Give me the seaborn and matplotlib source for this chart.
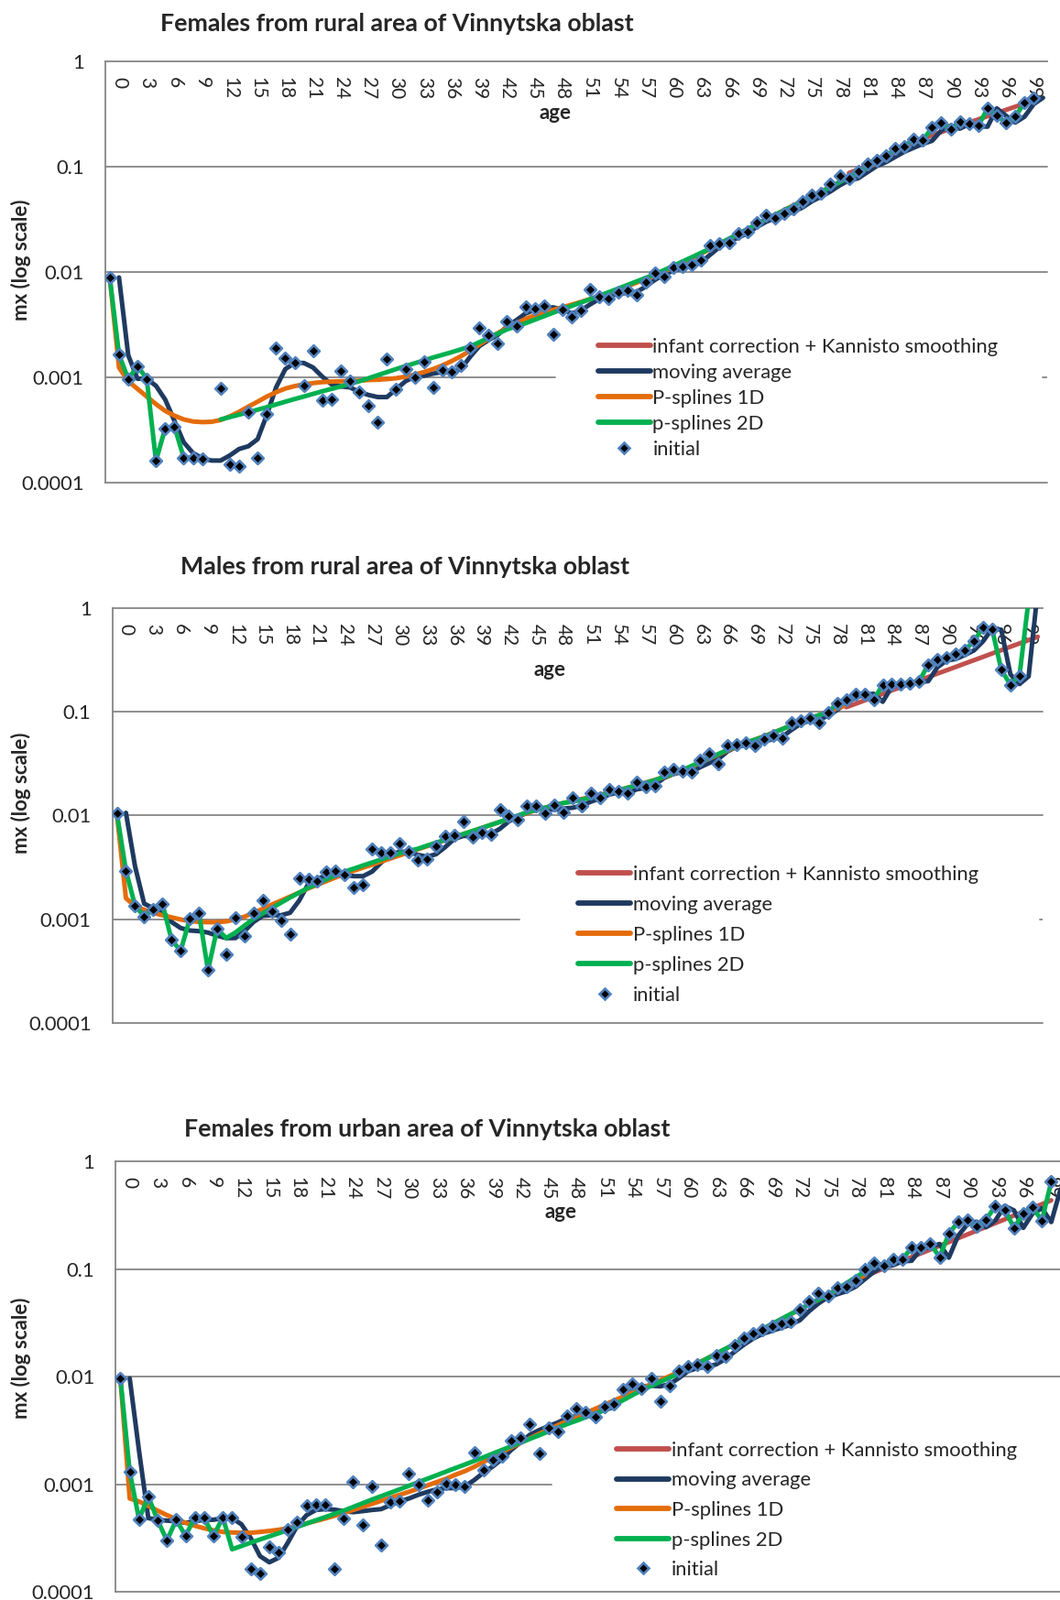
import numpy as np
import pandas as pd
import matplotlib.pyplot as plt
from matplotlib.lines import Line2D
from matplotlib.ticker import NullLocator
import seaborn as sns

nan = np.nan

# category slots of the Excel axis; labels show every third age
slots = np.arange(102)
tick_ages = list(range(0, 100, 3))
tick_slots = [a + 1 for a in tick_ages]
y_ticks = [1e-4, 1e-3, 1e-2, 1e-1, 1]
y_tick_labels = ['0.0001', '0.001', '0.01', '0.1', '1']

series_names = ['infant correction + Kannisto smoothing', 'moving average',
                'P-splines 1D', 'p-splines 2D', 'initial']
line_colors = ['#C0504D', '#1F3A60', '#E46C0A', '#00B050']
grey = '#868686'

# values are log10(mx), one per slot (nan = no point)
fr_initial = [
    -2.052, -2.786, -3.017, -2.893, -3.014, -3.794, -3.484, -3.467, -3.762, -3.768,
    -3.774, nan, -3.104, -3.829, -3.841, -3.333, -3.765, -3.351, -2.725, -2.820,
    -2.864, -3.078, -2.748, -3.217, -3.206, -2.942, -3.038, -3.142, -3.267, -3.426,
    -2.823, -3.116, -2.925, -3.000, -2.855, -3.093, -2.928, -2.945, -2.887, -2.722,
    -2.533, -2.603, -2.675, -2.472, -2.513, -2.330, -2.348, -2.319, -2.594, -2.354,
    -2.429, -2.365, -2.168, -2.235, -2.255, -2.191, -2.174, -2.214, -2.096, -2.012,
    -2.046, -1.957, -1.945, -1.930, -1.890, -1.748, -1.728, -1.719, -1.632, -1.617,
    -1.530, -1.461, -1.487, -1.443, -1.400, -1.330, -1.267, -1.255, -1.168, -1.087,
    -1.113, -1.043, -0.971, -0.942, -0.893, -0.826, -0.806, -0.742, -0.751, -0.626,
    -0.586, -0.641, -0.574, -0.594, -0.612, -0.446, -0.516, -0.580, -0.522, -0.394,
    -0.345, nan]
fr_moving_avg = [
    nan, -2.052, -2.791, -3.014, -3.014, -3.081, -3.212, -3.414, -3.617, -3.719,
    -3.768, -3.791, -3.791, -3.742, -3.681, -3.655, -3.588, -3.357, -3.096, -2.922,
    -2.864, -2.864, -2.907, -2.994, -3.067, -3.087, -3.096, -3.139, -3.168, -3.188,
    -3.188, -3.113, -3.038, -2.994, -2.986, -2.965, -2.951, -2.951, -2.922, -2.806,
    -2.704, -2.646, -2.597, -2.516, -2.458, -2.394, -2.359, -2.342, -2.336, -2.357,
    -2.394, -2.365, -2.307, -2.255, -2.226, -2.212, -2.197, -2.191, -2.139, -2.075,
    -2.023, -1.988, -1.965, -1.936, -1.907, -1.835, -1.762, -1.710, -1.675, -1.632,
    -1.574, -1.525, -1.487, -1.458, -1.429, -1.386, -1.328, -1.284, -1.235, -1.177,
    -1.130, -1.110, -1.052, -0.994, -0.957, -0.907, -0.858, -0.820, -0.783, -0.754,
    -0.655, -0.609, -0.638, -0.597, -0.614, -0.620, -0.446, -0.516, -0.580, -0.525,
    -0.405, -0.345]
fr_psplines_1d = [
    -2.052, -2.907, -3.038, -3.110, -3.183, -3.255, -3.319, -3.365, -3.400, -3.420,
    -3.426, -3.423, -3.406, -3.371, -3.328, -3.278, -3.232, -3.183, -3.142, -3.107,
    -3.084, -3.067, -3.055, -3.046, -3.041, -3.038, -3.035, -3.032, -3.026, -3.023,
    -3.017, -3.009, -2.994, -2.974, -2.951, -2.922, -2.887, -2.846, -2.800, -2.748,
    -2.690, -2.632, -2.580, -2.530, -2.487, -2.446, -2.412, -2.383, -2.359, -2.335,
    -2.310, -2.284, -2.256, -2.228, -2.198, -2.167, -2.135, -2.102, -2.068, -2.033,
    -1.995, -1.955, -1.913, -1.870, -1.826, -1.781, -1.735, -1.688, -1.641, -1.594,
    -1.547, -1.501, -1.456, -1.411, -1.367, -1.323, -1.279, -1.235, -1.190, -1.145,
    -1.100, -1.055, -1.010, -0.965, -0.920] + [nan] * 17
fr_psplines_2d = [
    -2.052, -2.786, -3.017, -2.893, -3.014, -3.794, -3.484, -3.467, -3.762, -3.768,
    -3.774, nan, -3.400, -3.378, -3.355, -3.333, -3.308, -3.284, -3.258, -3.232,
    -3.207, -3.183, -3.158, -3.133, -3.110, -3.087, -3.062, -3.038, -3.009, -2.980,
    -2.951, -2.922, -2.894, -2.867, -2.840, -2.812, -2.787, -2.762, -2.735, -2.707,
    -2.667, -2.626, -2.585, -2.545, -2.516, -2.487, -2.453, -2.420, -2.386, -2.354,
    -2.322, -2.290, -2.258, -2.226, -2.192, -2.158, -2.124, -2.090, -2.056, -2.023,
    -1.982, -1.941, -1.900, -1.859, -1.818, -1.777, -1.731, -1.685, -1.639, -1.593,
    -1.547, -1.501, -1.458, -1.415, -1.371, -1.328, -1.284, -1.241, -1.194, -1.146,
    -1.099, -1.052, -1.004, -0.955, -0.907, -0.826, -0.806, -0.742, -0.751, -0.626,
    -0.586, -0.641, -0.574, -0.594, -0.612, -0.446, -0.516, -0.580, -0.522, -0.394,
    -0.345, nan]
fr_kannisto = [nan] * 80 + [
    -1.060, -1.025, -0.990, -0.945, -0.900, -0.860, -0.820, -0.780, -0.740, -0.700,
    -0.670, -0.640, -0.610, -0.580, -0.550, -0.520, -0.490, -0.460, -0.430, -0.400,
    -0.370, nan]

mr_initial = [
    -1.974, -2.532, -2.868, -2.976, -2.903, -2.850, -3.197, -3.306, -2.997, -2.938,
    -3.491, -3.094, -3.338, -2.988, -3.162, -2.938, -2.821, -2.924, -3.012, -3.141,
    -2.603, -2.612, -2.632, -2.541, -2.538, -2.574, -2.694, -2.668, -2.326, -2.356,
    -2.356, -2.268, -2.350, -2.429, -2.421, -2.300, -2.203, -2.188, -2.056, -2.206,
    -2.168, -2.179, -1.947, -2.009, -2.038, -1.912, -1.912, -1.979, -1.903, -1.968,
    -1.827, -1.910, -1.786, -1.830, -1.751, -1.763, -1.786, -1.674, -1.718, -1.710,
    -1.580, -1.557, -1.568, -1.577, -1.462, -1.403, -1.504, -1.321, -1.315, -1.300,
    -1.321, -1.262, -1.224, -1.253, -1.103, -1.088, -1.062, -1.100, -1.009, -0.915,
    -0.879, -0.826, -0.829, -0.885, -0.738, -0.732, -0.732, -0.720, -0.703, -0.544,
    -0.496, -0.479, -0.443, -0.402, -0.320, -0.187, -0.202, -0.594, -0.738, -0.650,
    0.080, nan]
mr_moving_avg = [
    nan, -1.974, -2.490, -2.850, -2.894, -2.924, -3.026, -3.085, -3.109, -3.115,
    -3.129, -3.159, -3.182, -3.182, -3.115, -3.026, -2.968, -2.962, -2.962, -2.938,
    -2.821, -2.659, -2.609, -2.579, -2.562, -2.574, -2.585, -2.585, -2.541, -2.453,
    -2.379, -2.350, -2.350, -2.379, -2.397, -2.374, -2.306, -2.226, -2.197, -2.197,
    -2.174, -2.179, -2.129, -2.056, -2.012, -1.974, -1.938, -1.938, -1.944, -1.932,
    -1.925, -1.904, -1.866, -1.836, -1.798, -1.777, -1.792, -1.748, -1.733, -1.704,
    -1.639, -1.601, -1.580, -1.580, -1.533, -1.492, -1.453, -1.380, -1.336, -1.321,
    -1.306, -1.286, -1.262, -1.239, -1.174, -1.115, -1.085, -1.071, -1.041, -0.982,
    -0.915, -0.865, -0.835, -0.826, -0.903, -0.756, -0.732, -0.732, -0.717, -0.703,
    -0.570, -0.505, -0.491, -0.452, -0.408, -0.320, -0.196, -0.208, -0.638, -0.732,
    -0.658, 0.170]
mr_psplines_1d = [
    -1.974, -2.797, -2.874, -2.909, -2.938, -2.962, -2.982, -3.003, -3.018, -3.026,
    -3.029, -3.029, -3.021, -3.003, -2.976, -2.938, -2.900, -2.859, -2.821, -2.782,
    -2.744, -2.703, -2.668, -2.632, -2.597, -2.562, -2.532, -2.503, -2.474, -2.444,
    -2.415, -2.385, -2.356, -2.326, -2.297, -2.268, -2.238, -2.209, -2.179, -2.150,
    -2.121, -2.091, -2.062, -2.032, -2.003, -1.974, -1.947, -1.924, -1.900, -1.879,
    -1.860, -1.840, -1.820, -1.800, -1.778, -1.756, -1.732, -1.708, -1.683, -1.657,
    -1.630, -1.600, -1.567, -1.530, -1.490, -1.450, -1.410, -1.372, -1.335, -1.300,
    -1.267, -1.235, -1.200, -1.165, -1.130, -1.097, -1.065, -1.032, -1.000, -0.967,
    -0.935] + [nan] * 21
mr_psplines_2d = [
    -1.974, -2.532, -2.868, -2.976, -2.903, -2.850, -3.197, -3.306, -2.997, -2.938,
    -3.491, -3.094, -3.182, -3.129, -3.062, -2.997, -2.944, -2.894, -2.841, -2.791,
    -2.744, -2.697, -2.656, -2.615, -2.576, -2.541, -2.512, -2.482, -2.453, -2.424,
    -2.394, -2.365, -2.341, -2.321, -2.291, -2.262, -2.235, -2.209, -2.179, -2.150,
    -2.121, -2.091, -2.062, -2.032, -2.000, -1.968, -1.947, -1.924, -1.900, -1.879,
    -1.866, -1.846, -1.827, -1.807, -1.782, -1.758, -1.733, -1.709, -1.685, -1.660,
    -1.627, -1.595, -1.562, -1.523, -1.484, -1.445, -1.406, -1.366, -1.327, -1.298,
    -1.268, -1.239, -1.203, -1.166, -1.130, -1.097, -1.065, -1.032, -1.009, -0.915,
    -0.879, -0.826, -0.829, -0.885, -0.738, -0.732, -0.732, -0.720, -0.703, -0.544,
    -0.496, -0.479, -0.443, -0.402, -0.320, -0.187, -0.202, -0.594, -0.738, -0.650,
    0.080, nan]
mr_kannisto = [nan] * 80 + [
    -0.955, -0.923, -0.890, -0.858, -0.826, -0.793, -0.761, -0.728, -0.696, -0.664,
    -0.631, -0.599, -0.567, -0.534, -0.502, -0.470, -0.437, -0.405, -0.372, -0.340,
    -0.308, -0.276]

fu_initial = [
    -2.017, -2.884, -3.325, -3.116, -3.336, -3.523, -3.331, -3.480, -3.308, -3.314,
    -3.483, -3.308, -3.308, -3.492, -3.788, -3.833, -3.579, -3.630, -3.424, -3.353,
    -3.203, -3.195, -3.195, -3.791, -3.319, -2.977, -3.379, -3.020, -3.565, -3.169,
    -3.161, -2.898, -3.003, -3.147, -3.071, -2.992, -3.003, -3.017, -2.709, -2.864,
    -2.777, -2.743, -2.596, -2.573, -2.441, -2.718, -2.477, -2.511, -2.364, -2.297,
    -2.334, -2.374, -2.278, -2.255, -2.122, -2.071, -2.108, -2.017, -2.232, -2.085,
    -1.949, -1.909, -1.892, -1.909, -1.802, -1.813, -1.711, -1.643, -1.603, -1.569,
    -1.535, -1.507, -1.490, -1.382, -1.306, -1.229, -1.249, -1.178, -1.167, -1.102,
    -1.008, -0.946, -0.966, -0.909, -0.912, -0.802, -0.802, -0.762, -0.890, -0.674,
    -0.561, -0.547, -0.606, -0.541, -0.414, -0.448, -0.618, -0.484, -0.428, -0.550,
    -0.190, nan]
fu_moving_avg = [
    nan, -2.017, -2.690, -3.316, -3.331, -3.339, -3.345, -3.359, -3.345, -3.331,
    -3.331, -3.316, -3.316, -3.373, -3.500, -3.669, -3.726, -3.684, -3.542, -3.387,
    -3.288, -3.240, -3.232, -3.237, -3.251, -3.260, -3.251, -3.240, -3.232, -3.195,
    -3.161, -3.133, -3.099, -3.071, -3.048, -3.037, -3.037, -3.020, -2.963, -2.893,
    -2.836, -2.766, -2.681, -2.610, -2.540, -2.497, -2.460, -2.427, -2.384, -2.368,
    -2.354, -2.340, -2.312, -2.283, -2.198, -2.127, -2.091, -2.085, -2.091, -2.071,
    -2.014, -1.949, -1.921, -1.909, -1.887, -1.836, -1.768, -1.703, -1.646, -1.603,
    -1.575, -1.547, -1.518, -1.476, -1.391, -1.320, -1.263, -1.235, -1.207, -1.164,
    -1.093, -1.023, -0.975, -0.966, -0.929, -0.924, -0.816, -0.796, -0.768, -0.895,
    -0.691, -0.584, -0.561, -0.612, -0.550, -0.414, -0.456, -0.618, -0.484, -0.436,
    -0.564, -0.260]
fu_psplines_1d = [
    -2.017, -3.133, -3.161, -3.203, -3.246, -3.288, -3.325, -3.359, -3.387, -3.410,
    -3.429, -3.444, -3.449, -3.452, -3.452, -3.444, -3.435, -3.424, -3.410, -3.387,
    -3.364, -3.342, -3.319, -3.294, -3.268, -3.240, -3.212, -3.184, -3.155, -3.127,
    -3.099, -3.071, -3.042, -3.011, -2.980, -2.949, -2.912, -2.879, -2.839, -2.794,
    -2.749, -2.703, -2.658, -2.616, -2.573, -2.531, -2.492, -2.452, -2.412, -2.375,
    -2.338, -2.300, -2.262, -2.224, -2.186, -2.148, -2.110, -2.072, -2.034, -1.996,
    -1.958, -1.918, -1.876, -1.833, -1.789, -1.744, -1.698, -1.652, -1.606, -1.560,
    -1.514, -1.468, -1.422, -1.376, -1.331, -1.286, -1.241, -1.196, -1.150, -1.104,
    -1.058] + [nan] * 21
fu_psplines_2d = [
    -2.017, -2.884, -3.325, -3.116, -3.336, -3.523, -3.331, -3.480, -3.308, -3.314,
    -3.483, -3.308, -3.605, -3.575, -3.544, -3.514, -3.485, -3.456, -3.427, -3.397,
    -3.366, -3.336, -3.306, -3.276, -3.246, -3.212, -3.178, -3.144, -3.112, -3.080,
    -3.048, -3.015, -2.982, -2.949, -2.916, -2.883, -2.850, -2.818, -2.784, -2.751,
    -2.716, -2.682, -2.647, -2.613, -2.579, -2.545, -2.510, -2.476, -2.441, -2.410,
    -2.377, -2.345, -2.312, -2.266, -2.220, -2.173, -2.127, -2.088, -2.049, -2.010,
    -1.972, -1.926, -1.880, -1.834, -1.788, -1.742, -1.696, -1.650, -1.603, -1.557,
    -1.511, -1.465, -1.419, -1.374, -1.330, -1.285, -1.241, -1.186, -1.132, -1.077,
    -1.023, -0.946, -0.966, -0.909, -0.912, -0.802, -0.802, -0.762, -0.890, -0.674,
    -0.561, -0.547, -0.606, -0.541, -0.414, -0.448, -0.618, -0.484, -0.428, -0.550,
    -0.190, nan]
fu_kannisto = [nan] * 80 + [
    -1.066, -1.031, -0.996, -0.961, -0.925, -0.890, -0.855, -0.820, -0.785, -0.750,
    -0.714, -0.679, -0.644, -0.609, -0.574, -0.539, -0.503, -0.468, -0.433, -0.398,
    -0.362, nan]

panels = [
    dict(title='Females from rural area of Vinnytska oblast',
         lines=[fr_kannisto, fr_moving_avg, fr_psplines_1d, fr_psplines_2d], initial=fr_initial,
         rect=[0.0992, 0.6984, 0.8891, 0.2632], title_xy=(0.3747, 0.9852), ylab_y=0.8374,
         age_xy=(0.4775, 0.8763), leg_xy=(652.6, 434.8), leg_space=0.37, grid_gap=(0.4775, 0.9944)),
    dict(title='Males from rural area of Vinnytska oblast',
         lines=[mr_kannisto, mr_moving_avg, mr_psplines_1d, mr_psplines_2d], initial=mr_initial,
         rect=[0.1059, 0.3607, 0.8774, 0.2592], title_xy=(0.3820, 0.6455), ylab_y=0.5045,
         age_xy=(0.470, 0.850), leg_xy=(631.3, 1020.7), leg_space=0.59, grid_gap=(0.4383, 0.9969)),
    dict(title='Females from urban area of Vinnytska oblast',
         lines=[fu_kannisto, fu_moving_avg, fu_psplines_1d, fu_psplines_2d], initial=fu_initial,
         rect=[0.1092, 0.00515, 0.8957, 0.2690], title_xy=(0.4028, 0.2942), ylab_y=0.1513,
         age_xy=(0.4687, 0.881), leg_xy=(673.0, 1648.9), leg_space=0.575, grid_gap=(0.459, 1.0)),
]


def to_frame(log_vals):
    df = pd.DataFrame({'slot': slots, 'mx': 10.0 ** np.array(log_vals, dtype=float)})
    df['seg'] = df['mx'].isna().cumsum()
    return df.dropna()


sns.set_style('white')
plt.rcParams['font.family'] = ['Lato', 'DejaVu Sans']

W, H = 1157, 1747
fig = plt.figure(figsize=(W / 100, H / 100), dpi=100)

for p in panels:
    ax = fig.add_axes(p['rect'])
    ax.set_yscale('log')

    for z, (vals, color) in enumerate(zip(p['lines'], line_colors)):
        sns.lineplot(data=to_frame(vals), x='slot', y='mx', units='seg', estimator=None,
                     color=color, linewidth=3.6, ax=ax, zorder=2 + z, legend=False,
                     solid_capstyle='round', solid_joinstyle='round')
    sns.scatterplot(data=to_frame(p['initial']), x='slot', y='mx', marker='D', s=42,
                    color='black', edgecolor='#4F81BD', linewidth=1.9, ax=ax, zorder=7,
                    legend=False)

    ax.set_ylim(1e-4, 1)
    ax.set_xlim(-0.5, 101.5)
    ax.set_xlabel('')
    ax.set_ylabel('')

    # gridlines, with the 0.001 line hidden behind the legend
    for y in [1e-4, 1e-2, 1e-1]:
        ax.axhline(y, color=grey, lw=1.3, zorder=0.5, clip_on=False)
    ax.axhline(1e-3, xmax=p['grid_gap'][0], color=grey, lw=1.3, zorder=0.5)
    if p['grid_gap'][1] < 1:
        ax.axhline(1e-3, xmin=p['grid_gap'][1], color=grey, lw=1.3, zorder=0.5)

    # horizontal axis sits at the top (crosses at 1), labels below it
    ax.spines['top'].set_visible(False)
    ax.spines['right'].set_visible(False)
    ax.spines['bottom'].set_position(('axes', 1.0))
    for s in ['bottom', 'left']:
        ax.spines[s].set_color(grey)
        ax.spines[s].set_linewidth(1.3)
    ax.set_xticks(tick_slots)
    ax.set_xticklabels([str(a) for a in tick_ages], rotation=270, fontsize=15)
    ax.set_xticks(np.arange(-0.5, 102, 1), minor=True)
    ax.tick_params(axis='x', which='major', length=0, pad=12)
    ax.tick_params(axis='x', which='minor', length=5, width=1, color=grey, direction='out')
    ax.set_yticks(y_ticks)
    ax.set_yticklabels(y_tick_labels, fontsize=15.8)
    ax.yaxis.set_minor_locator(NullLocator())
    ax.tick_params(axis='y', which='major', length=4.5, width=1, color=grey, pad=12)

    ax.text(p['age_xy'][0], p['age_xy'][1], 'age', transform=ax.transAxes,
            ha='center', va='center', fontsize=16, fontweight='bold')

    handles = [Line2D([], [], color=c, lw=4.2) for c in line_colors]
    handles.append(Line2D([], [], ls='none', marker='D', ms=6.5, mfc='black',
                          mec='#4F81BD', mew=1.9))
    ax.legend(handles, series_names, loc='center left',
              bbox_to_anchor=(p['leg_xy'][0] / W, 1 - p['leg_xy'][1] / H),
              bbox_transform=fig.transFigure, frameon=False, fontsize=15.8,
              handlelength=2.6, handletextpad=0.12, labelspacing=p['leg_space'],
              borderpad=0, borderaxespad=0)

    fig.text(p['title_xy'][0], p['title_xy'][1], p['title'], ha='center', va='center',
             fontsize=19.3, fontweight='bold')
    fig.text(0.0199, p['ylab_y'], 'mx (log scale)', rotation=90, ha='center', va='center',
             fontsize=16, fontweight='bold')

fig.savefig('out.png', dpi=100)
